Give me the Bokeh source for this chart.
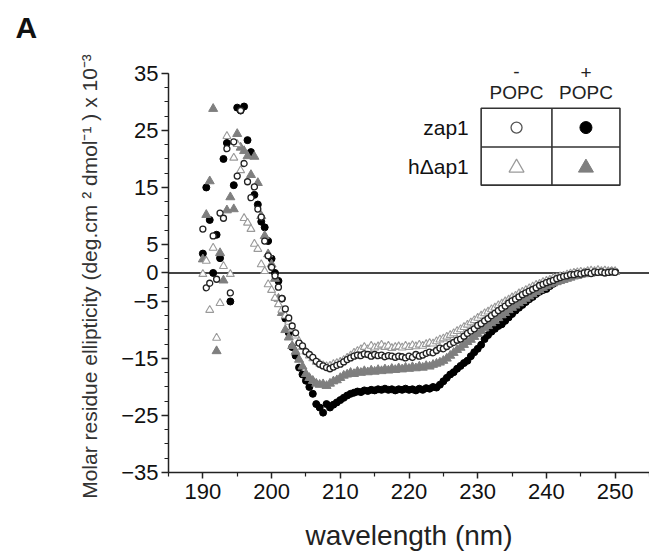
import numpy as np
from bokeh.plotting import figure
from bokeh.models import FixedTicker, Span
from bokeh.core.properties import value
from bokeh.embed import file_html
from bokeh.resources import INLINE

FONT = "Liberation Sans"

# scan grid (nm), 0.5 nm steps
wavelength = np.arange(190.0, 250.25, 0.5)

# zap1, -POPC (open circles)
zap1_minus = [
    7.7, -2.6, -1.8, 6.5, -1.1, 10.5, 9.6, 21.8, -3.5, 23.0,
    17.0, 28.5, 19.2, 16.0, 13.2, 15.1, 11.2, 9.8, 5.6, 3.0,
    1.0, -0.5, -2.5, -4.5, -6.3, -7.9, -9.3, -10.5, -12.3, -12.8,
    -13.8, -14.3, -14.8, -15.5, -16.0, -16.3, -16.6, -16.8, -16.5, -16.2,
    -16.0, -15.6, -15.2, -14.9, -14.6, -14.4, -14.5, -14.2, -14.3, -14.6,
    -14.3, -14.5, -14.4, -14.7, -14.5, -14.6, -14.8, -14.6, -14.7, -14.9,
    -14.6, -14.8, -14.3, -14.6, -14.4, -14.1, -13.9, -14.0, -13.6, -13.2,
    -13.3, -12.9, -12.5, -12.2, -11.8, -11.6, -11.1, -10.6, -10.2, -9.8,
    -9.2, -8.9, -8.4, -8.0, -7.5, -7.1, -6.6, -6.2, -5.8, -5.3,
    -4.9, -4.6, -4.2, -3.8, -3.5, -3.2, -2.9, -2.6, -2.2, -2.0,
    -1.7, -1.5, -1.3, -1.0, -0.8, -0.6, -0.5, -0.3, -0.3, -0.1,
    -0.2, 0.0, 0.1, -0.1, 0.2, 0.1, 0.2, 0.0, 0.1, 0.2,
    0.1,
]

# zap1, +POPC (filled black circles)
zap1_plus = [
    3.4, 15.0, 9.3, 0.0, 6.7, 2.6, 20.0, 22.8, -5.0, 15.4,
    29.0, 28.5, 29.2, 23.3, 21.2, 13.7, 12.0, 9.0, 8.0, 5.6,
    2.5, 0.0, -1.4, -4.5, -8.0, -10.5, -13.0, -14.5, -16.6, -17.8,
    -18.9, -20.0, -21.2, -23.0, -23.6, -24.5, -23.0, -23.6, -23.1, -22.7,
    -22.3, -21.9, -21.5, -21.2, -21.0, -20.8, -20.9, -20.6, -20.7, -20.5,
    -20.6, -20.4, -20.5, -20.3, -20.5, -20.4, -20.6, -20.4, -20.5, -20.3,
    -20.5, -20.4, -20.6, -20.3, -20.5, -20.2, -20.3, -20.0, -20.1, -19.6,
    -19.0, -18.4, -17.8, -17.4, -16.8, -16.3, -15.8, -15.4, -14.6, -13.9,
    -13.3, -12.6, -11.6, -10.9, -10.3, -9.8, -9.3, -9.0, -8.4, -7.8,
    -7.2, -6.6, -6.1, -5.6, -5.1, -4.6, -4.2, -3.7, -3.3, -3.0,
    -2.8, -2.3, -1.9, -1.5, -1.1, -0.8, -0.5, -0.3, -0.2, 0.0,
    -0.1, 0.1, 0.2, 0.0, 0.1, 0.3, 0.2, 0.1, 0.2, 0.3,
    0.2,
]

# h-delta-ap1, -POPC (open light triangles)
hdap1_minus = [
    -0.2, 2.1, -6.5, 4.4, -11.4, -5.3, 1.2, 24.0, -0.2, 20.2,
    22.6, 18.0, 9.6, 8.8, 7.7, 5.1, 4.2, 1.5, 0.3, -2.0,
    -3.0, -4.4, -5.5, -6.5, -7.5, -8.6, -9.8, -11.0, -12.0, -13.0,
    -13.8, -14.5, -15.0, -15.6, -15.9, -16.2, -16.4, -16.3, -16.0, -15.8,
    -15.6, -15.3, -14.9, -14.5, -14.0, -13.7, -13.4, -13.0, -13.4, -12.8,
    -13.1, -12.9, -12.6, -13.0, -12.8, -13.2, -13.0, -12.9, -13.1, -12.8,
    -13.0, -12.7, -12.9, -12.6, -12.8, -12.5, -12.3, -12.4, -12.0, -11.7,
    -11.5, -11.2, -10.9, -10.6, -10.2, -9.9, -9.5, -9.1, -8.7, -8.3,
    -7.9, -7.5, -7.1, -6.8, -6.4, -6.1, -5.7, -5.4, -5.0, -4.7,
    -4.3, -4.0, -3.6, -3.3, -3.0, -2.7, -2.4, -2.1, -1.9, -1.6,
    -1.4, -1.2, -0.9, -0.8, -0.6, -0.5, -0.3, -0.1, 0.0, 0.1,
    0.2, 0.1, 0.3, 0.4, 0.3, 0.5, 0.3, 0.4, 0.2, 0.3,
    0.2,
]

# h-delta-ap1, +POPC (filled gray triangles)
hdap1_plus = [
    2.4, 10.2, 16.1, 28.8, -13.7, 3.5, -1.3, 11.0, 13.3, 11.2,
    24.4, 22.0, 21.4, 20.5, 17.2, 20.4, 15.8, 10.0, 6.5, 3.3,
    1.5, -1.0, -4.5, -7.0, -10.0, -11.3, -12.8, -13.8, -15.2, -16.4,
    -17.7, -18.4, -18.9, -19.4, -19.6, -19.5, -19.8, -19.4, -19.0, -18.8,
    -18.4, -18.0, -17.8, -17.5, -17.7, -17.3, -17.5, -17.2, -17.4, -17.1,
    -17.3, -17.0, -17.2, -16.9, -17.1, -16.8, -17.0, -16.7, -16.9, -16.6,
    -16.8, -16.5, -16.7, -16.4, -16.6, -16.3, -16.4, -16.1, -15.9, -15.7,
    -15.4, -15.0, -14.5, -14.0, -13.5, -13.1, -12.6, -12.1, -11.7, -11.2,
    -10.7, -10.2, -9.7, -9.3, -8.8, -8.4, -7.9, -7.4, -7.0, -6.5,
    -6.1, -5.7, -5.3, -4.9, -4.5, -4.1, -3.7, -3.3, -3.0, -2.6,
    -2.3, -2.0, -1.8, -1.6, -1.4, -1.2, -1.0, -0.8, -0.6, -0.5,
    -0.3, -0.2, -0.1, 0.1, 0.0, 0.2, 0.1, 0.3, 0.2, 0.1,
    0.2,
]

x_ticks = [190, 200, 210, 220, 230, 240, 250]
x_minor = [185, 195, 205, 215, 225, 235, 245, 255]
y_ticks = [-35, -25, -15, -5, 0, 5, 15, 25, 35]
y_minor = [-35 + 2.5 * i for i in range(29)]

row_labels = ["zap1", "h\u0394ap1"]
col_signs = ["-", "+"]
col_names = ["POPC", "POPC"]

p = figure(width=649, height=556, x_range=(185, 255), y_range=(-35, 39.9),
           output_backend="svg", toolbar_location=None,
           min_border_left=168, min_border_right=0, min_border_top=45, min_border_bottom=84)
p.outline_line_color = None
p.grid.visible = False
p.background_fill_color = "white"
p.border_fill_color = "white"

p.title.text = "A"
p.title.align = "left"
p.title.offset = -153
p.title.standoff = 3
p.title.text_font = FONT
p.title.text_font_size = "30px"
p.title.text_font_style = "bold"
p.title.text_color = "#111111"

p.add_layout(Span(location=0, dimension="width", line_color="#444444", line_width=2, level="underlay"))

for ax in (p.xaxis[0], p.yaxis[0]):
    ax.axis_line_color = "#222222"
    ax.axis_line_width = 1.5
    ax.major_tick_line_color = "#222222"
    ax.minor_tick_line_color = "#222222"
    ax.major_tick_line_width = 1.5
    ax.minor_tick_line_width = 1.2
    ax.major_tick_in = 0
    ax.minor_tick_in = 0
    ax.major_label_text_font = FONT
    ax.major_label_text_font_size = "22px"
    ax.major_label_text_color = "#111111"
    ax.axis_label_text_font = FONT
    ax.axis_label_text_font_style = "normal"

p.yaxis.bounds = (-35, 35)
p.xaxis.ticker = FixedTicker(ticks=x_ticks, minor_ticks=x_minor)
p.yaxis.ticker = FixedTicker(ticks=y_ticks, minor_ticks=y_minor)
p.xaxis.major_tick_out = 6
p.xaxis.minor_tick_out = 4
p.yaxis.major_tick_out = 7
p.yaxis.minor_tick_out = 4
p.xaxis.major_label_standoff = 5
p.yaxis.major_label_standoff = 3

p.xaxis.axis_label = "wavelength (nm)"
p.xaxis.axis_label_text_font_size = "28px"
p.xaxis.axis_label_text_color = "#222222"
p.xaxis.axis_label_standoff = 18

# trailing no-break spaces shift the label's centre down to the axis' own span
p.yaxis.axis_label = ("Molar residue ellipticity (deg.cm \u00b2 dmol\u207b\u00b9 ) x 10\u207b\u00b3"
                      + "\u00a0" * 6)
p.yaxis.axis_label_text_font_size = "21px"
p.yaxis.axis_label_text_color = "#333333"
p.yaxis.axis_label_standoff = 17

# data
p.scatter(wavelength, zap1_plus, marker="circle", size=7, fill_color="black", line_color="black")
p.scatter(wavelength, hdap1_plus, marker="triangle", size=9, fill_color="#7f7f7f", line_color="#7f7f7f")
p.scatter(wavelength, hdap1_minus, marker="triangle", size=8, fill_color="white", line_color="#9a9a9a", line_width=1.1)
p.scatter(wavelength, zap1_minus, marker="circle", size=6, fill_color="white", line_color="#222222", line_width=1.3)

# legend table
lx0, lxm, lx1 = 230.5, 240.8, 250.7
ly0, lym, ly1 = 15.4, 22.1, 28.9
p.quad(left=[lx0], right=[lx1], bottom=[ly0], top=[ly1], fill_color=None, line_color="#333333", line_width=1.6)
p.segment(x0=[lxm, lx0], y0=[ly0, lym], x1=[lxm, lx1], y1=[ly1, lym], line_color="#333333", line_width=1.6)
cxa, cxb = (lx0 + lxm) / 2, (lxm + lx1) / 2
rya, ryb = (lym + ly1) / 2, (ly0 + lym) / 2
p.scatter([cxa], [rya], marker="circle", size=11, fill_color="white", line_color="#555555", line_width=1.3)
p.scatter([cxb], [rya], marker="circle", size=12, fill_color="black", line_color="black")
p.scatter([cxa], [ryb - 0.3], marker="triangle", size=15, fill_color="white", line_color="#9a9a9a", line_width=1.2)
p.scatter([cxb], [ryb - 0.3], marker="triangle", size=15, fill_color="#7f7f7f", line_color="#7f7f7f")
p.text(x=[lx0 - 1.8, lx0 - 1.8], y=[rya, ryb], text=row_labels, text_font=value(FONT),
       text_font_size="21px", text_align="right", text_baseline="middle", text_color="#111111")
p.text(x=[cxa, cxb], y=[35.4, 35.1], text=col_signs, text_font=value(FONT),
       text_font_size="19px", text_align="center", text_baseline="middle", text_color="#222222")
p.text(x=[cxa, cxb], y=[31.6, 31.6], text=col_names, text_font=value(FONT),
       text_font_size="19px", text_align="center", text_baseline="middle", text_color="#222222")

open("out.html", "w").write(file_html(p, INLINE))
